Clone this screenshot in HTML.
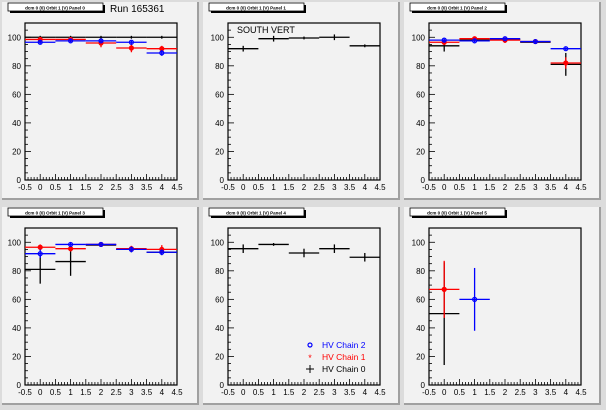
<!DOCTYPE html>
<html><head><meta charset="utf-8"><style>
body{margin:0;background:#dcdcdc;}
svg{display:block;font-family:"Liberation Sans",sans-serif;}
</style></head><body>
<svg id="c" width="606" height="410" viewBox="0 0 606 410"></svg>
<script>
const bins=[0,1,2,3,4];
const xTicks=["-0.5","0","0.5","1","1.5","2","2.5","3","3.5","4","4.5"];
const yTicks=[0,20,40,60,80,100];
const panelTitles=["dcm 0 (0) Orbit 1 (V) Panel 0","dcm 0 (0) Orbit 1 (V) Panel 1","dcm 0 (0) Orbit 1 (V) Panel 2","dcm 0 (0) Orbit 1 (V) Panel 3","dcm 0 (0) Orbit 1 (V) Panel 4","dcm 0 (0) Orbit 1 (V) Panel 5"];
// per-panel values [black(chain0), red(chain1), blue(chain2)], null = no entry
const black0=[100,100,100,100,100], red0=[98.5,98.5,96,92.5,92], blue0=[96.5,97.5,97.5,96.5,89];
const blackErr0=[1,1,1,1,1], redErr0=[1,1,3,3,2], blueErr0=[1.5,1,1,1,2];
const black1=[92,99,99.5,100,94], blackErr1=[2,2,1,2,1];
const black2=[94,98,98.5,96.5,81], red2=[96.5,99,98,97,82], blue2=[98,97.5,99,97,92];
const blackErr2=[4,1,1,1,8], redErr2=[2,1,2,1,4], blueErr2=[1,1,1,1,1];
const black3=[81,86.5,98,95,93], red3=[96.5,95.5,98.5,95.5,95], blue3=[92,98.5,98.5,95,93];
const blackErr3=[10,10,1,2,2], redErr3=[2,2,1,2,3], blueErr3=[3,1,1,2,2];
const black4=[95.5,98.5,92.5,95.5,89.5], blackErr4=[3,1,3,3,3];
const black5=[50,null,null,null,null], red5=[67,null,null,null,null], blue5=[null,60,null,null,null];
const blackErr5=[36,0,0,0,0], redErr5=[20,0,0,0,0], blueErr5=[0,22,0,0,0];

const NS="http://www.w3.org/2000/svg";
const svg=document.getElementById('c');
function mk(tag,attrs,parent){const e=document.createElementNS(NS,tag);for(const k in attrs)e.setAttribute(k,attrs[k]);(parent||svg).appendChild(e);return e;}

const pads=[
 {px:2,py:2,fl:25,ft:23,series:[[black0,blackErr0,'#000'],[red0,redErr0,'#f00'],[blue0,blueErr0,'#00f']]},
 {px:203,py:2,fl:228,ft:23,series:[[black1,blackErr1,'#000']]},
 {px:404,py:2,fl:429,ft:23,series:[[black2,blackErr2,'#000'],[red2,redErr2,'#f00'],[blue2,blueErr2,'#00f']]},
 {px:2,py:207,fl:25,ft:228,series:[[black3,blackErr3,'#000'],[red3,redErr3,'#f00'],[blue3,blueErr3,'#00f']]},
 {px:203,py:207,fl:228,ft:228,series:[[black4,blackErr4,'#000']]},
 {px:404,py:207,fl:429,ft:228,series:[[black5,blackErr5,'#000'],[red5,redErr5,'#f00'],[blue5,blueErr5,'#00f']]}
];
const FW=152,FH=157,XMIN=-0.5,XMAX=4.5,YMAX=110;
pads.forEach((p,i)=>{
 const g=mk('g',{});
 
 
 mk('rect',{x:p.px,y:p.py,width:196,height:197,fill:'#f2f2f2',stroke:'none'},g);
 mk('path',{d:`M${p.px+196} ${p.py} V${p.py+197} H${p.px}`,stroke:'#a0a0a0','stroke-width':2,fill:'none'},g);
 const X=v=>p.fl+(v-XMIN)/(XMAX-XMIN)*FW;
 const Y=v=>p.ft+FH-(v/YMAX)*FH;
 // title box
 mk('rect',{x:p.px+8,y:p.py+3,width:95,height:8,fill:'#000'},g);
 mk('rect',{x:p.px+6,y:p.py+1,width:95,height:8,fill:'#fff',stroke:'#000','stroke-width':0.8},g);
 const tt=mk('text',{x:p.px+53,y:p.py+7.5,'font-size':4.5,'text-anchor':'middle','font-weight':'bold'},g);
 tt.textContent=panelTitles[i];
 
 
 // frame
 mk('rect',{x:p.fl,y:p.ft,width:FW,height:FH,fill:'none',stroke:'#000','stroke-width':1.2},g);
 // y ticks
 for(let v=0;v<=YMAX;v+=5){const l=(v%20===0)?6:3;mk('line',{x1:p.fl,x2:p.fl+l,y1:Y(v),y2:Y(v),stroke:'#000','stroke-width':0.8},g);}
 yTicks.forEach(v=>{const t=mk('text',{x:p.fl-4,y:Y(v)+3,'font-size':8,'text-anchor':'end'},g);t.textContent=v;
  });
 // x ticks
 for(let k=0;k<=50;k++){const v=XMIN+k*0.1;const l=(k%5===0)?6:3;mk('line',{x1:X(v),x2:X(v),y1:p.ft+FH,y2:p.ft+FH-l,stroke:'#000','stroke-width':0.8},g);}
 xTicks.forEach(s=>{const t=mk('text',{x:X(parseFloat(s)),y:p.ft+FH+10,'font-size':8,'text-anchor':'middle'},g);t.textContent=s;
  });
 // series
 p.series.forEach(([vals,errs,col],si)=>{
  bins.forEach((b,j)=>{
   const v=vals[j]; if(v===null||v===undefined) return;
   const m=mk('g',{},g);
   
   
   const y=Y(Math.min(v,YMAX));
   mk('line',{x1:X(b-0.5),x2:X(b+0.5),y1:y,y2:y,stroke:col,'stroke-width':1.3},m);
   mk('line',{x1:X(b),x2:X(b),y1:Y(Math.min(v+errs[j],YMAX)),y2:Y(Math.max(v-errs[j],0)),stroke:col,'stroke-width':1.3},m);
   if(col!=='#000') mk('circle',{cx:X(b),cy:y,r:2,fill:col==='#f00'?col:'none',stroke:col,'stroke-width':1.2},m);
  });
 });
});
// labels
let t=mk('text',{x:110,y:12,'font-size':10});t.textContent='Run 165361';

t=mk('text',{x:237,y:33,'font-size':9});t.textContent='SOUTH VERT';

// legend
const legItems=[['HV Chain 2','#00f'],['HV Chain 1','#f00'],['HV Chain 0','#000']];
legItems.forEach(([name,col],k)=>{
 const y=348+k*12;
 const lg=mk('g',{});
 
 
 if(k===0) mk('circle',{cx:310,cy:y-3,r:2,fill:'none',stroke:col,'stroke-width':1.2},lg);
 else if(k===1) mk('text',{x:310,y:y+1,'font-size':9,'text-anchor':'middle',fill:col},lg).textContent='*';
 else {mk('line',{x1:306,x2:314,y1:y-3,y2:y-3,stroke:col},lg);mk('line',{x1:310,x2:310,y1:y-7,y2:y+1,stroke:col},lg);}
 const tx=mk('text',{x:322,y:y,'font-size':8.5,fill:col},lg);tx.textContent=name;
});
</script>
</body></html>
